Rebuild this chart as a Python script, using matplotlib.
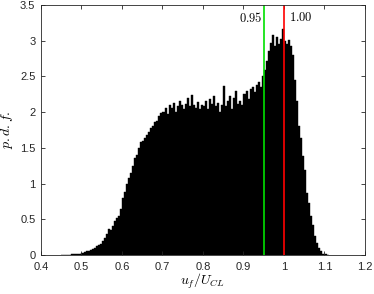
import numpy as np
import matplotlib
matplotlib.use("Agg")
import matplotlib.pyplot as plt

plt.rcParams['font.family'] = ['Liberation Sans', 'DejaVu Sans']
plt.rcParams['mathtext.fontset'] = 'cm'

# histogram bins (left edges start at 0.45, width 0.005)
bin_start = 0.45
bin_width = 0.005
pdf = [
    0.0, 0.0, 0.0, 0.005, 0.005, 0.01, 0.01, 0.015, 0.02, 0.02,          # 0.45-0.50
    0.03, 0.04, 0.06, 0.05, 0.07, 0.08, 0.10, 0.12, 0.14, 0.16,          # 0.50-0.55
    0.20, 0.24, 0.30, 0.36, 0.35, 0.40, 0.47, 0.52, 0.55, 0.64,          # 0.55-0.60
    0.80, 0.88, 1.00, 1.08, 1.15, 1.25, 1.36, 1.40, 1.50, 1.58,          # 0.60-0.65
    1.60, 1.64, 1.68, 1.72, 1.78, 1.80, 1.86, 1.87, 1.94, 1.99,          # 0.65-0.70
    2.00, 2.06, 1.98, 2.10, 2.06, 2.13, 2.00, 2.08, 2.16, 2.10,          # 0.70-0.75
    2.05, 2.12, 2.20, 2.08, 2.24, 2.10, 2.06, 2.14, 2.04, 2.10,          # 0.75-0.80
    2.08, 2.15, 2.05, 2.18, 2.12, 2.22, 2.08, 2.13, 2.00, 2.10,          # 0.80-0.85
    2.36, 2.08, 2.15, 2.22, 2.05, 2.20, 2.30, 2.12, 2.16, 2.10,          # 0.85-0.90
    2.25, 2.30, 2.18, 2.32, 2.35, 2.28, 2.38, 2.42, 2.35, 2.50,          # 0.90-0.95
    2.59, 2.72, 2.85, 2.97, 3.08, 2.92, 3.05, 2.95, 3.02, 3.17,          # 0.95-1.00
    3.00, 2.95, 3.01, 2.93, 2.80, 2.45, 2.15, 1.80, 1.64, 1.38,          # 1.00-1.05
    1.19, 0.87, 0.73, 0.54, 0.42, 0.26, 0.17, 0.10, 0.05, 0.02,          # 1.05-1.10
    0.01, 0.005,
]
centers = bin_start + bin_width * (np.arange(len(pdf)) + 0.5)

line_x = [0.95, 1.00]
line_colors = ['#00e000', '#ff0000']
line_labels = ['$0.95$', '$1.00$']

fig = plt.figure(figsize=(3.74, 2.94), dpi=100)
ax = fig.add_axes([0.1096, 0.1327, 0.8663, 0.8503])

ax.bar(centers, pdf, width=bin_width, color='k', edgecolor='k', linewidth=0.3)

for xv, c in zip(line_x, line_colors):
    ax.axvline(xv, color=c, linewidth=1.2)

ax.text(0.946, 3.32, line_labels[0], ha='right', va='center', fontsize=9)
ax.text(1.012, 3.32, line_labels[1], ha='left', va='center', fontsize=9)

ax.set_xlim(0.4, 1.2)
ax.set_ylim(0, 3.5)
ax.set_xticks(np.arange(0.4, 1.21, 0.1))
ax.set_xticklabels(['0.4', '0.5', '0.6', '0.7', '0.8', '0.9', '1', '1.1', '1.2'])
ax.set_yticks(np.arange(0, 3.51, 0.5))
ax.set_yticklabels(['0', '0.5', '1', '1.5', '2', '2.5', '3', '3.5'])
ax.tick_params(direction='in', top=True, right=True, length=3, width=0.6,
               labelsize=8, colors='#262626')
ax.tick_params(axis='x', pad=5)
ax.tick_params(axis='y', pad=4)
for s in ax.spines.values():
    s.set_linewidth(0.6)
    s.set_color('#262626')

ax.set_xlabel('$u_f/U_{CL}$', fontsize=10, labelpad=0)
ax.set_ylabel('$p.d.f.$', fontsize=10, labelpad=4)

fig.savefig('out.png', dpi=100)
